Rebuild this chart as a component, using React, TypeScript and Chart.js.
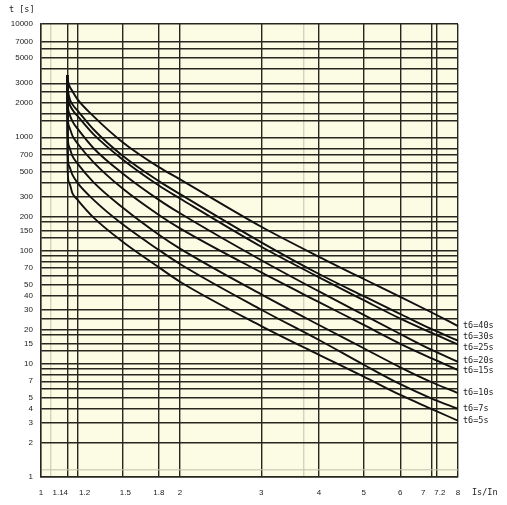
import React, { useEffect, useRef } from 'react';
import { Chart, registerables } from 'chart.js';

Chart.register(...registerables);

// ---- data ----
const xPoints = [1.14, 1.142, 1.15, 1.17, 1.2, 1.3, 1.5, 1.8, 2, 3, 4, 5, 6, 7, 8];
const seriesNames = ['t6=40s', 't6=30s', 't6=25s', 't6=20s', 't6=15s', 't6=10s', 't6=7s', 't6=5s'];
const t40 = [3550, 3300, 2900, 2550, 2160, 1530, 910, 545, 425, 162, 88, 56, 39, 28.5, 21.5];
const t30 = [3550, 2900, 2300, 1950, 1720, 1170, 690, 410, 315, 118, 62, 39.5, 27.5, 20.3, 16];
const t25 = [3550, 2600, 2050, 1750, 1540, 1060, 640, 375, 288, 108, 58, 36.4, 25, 18.8, 14.8];
const t20 = [3550, 2100, 1650, 1380, 1190, 800, 481, 280, 213, 82, 43.5, 27, 18.3, 13.3, 10.4];
const t15 = [3550, 1600, 1250, 1030, 880, 600, 354, 206, 157, 64, 35, 22, 15, 11.2, 8.8];
const t10 = [3550, 1100, 830, 680, 585, 400, 241, 138, 104, 41, 22, 13.7, 9.3, 6.9, 5.5];
const t7 = [3550, 740, 560, 465, 395, 280, 171, 101, 76, 30, 16.2, 9.8, 6.6, 4.95, 4.0];
const t5 = [3550, 520, 400, 320, 280, 195, 120, 71, 53, 21.5, 12, 7.7, 5.3, 4.0, 3.14];
const seriesValues = [t40, t30, t25, t20, t15, t10, t7, t5];

const xGrid = [1, 1.05, 1.14, 1.2, 1.5, 1.8, 2, 3, 3.7, 4, 5, 6, 7, 7.2, 8];
const xFaint = [1.05, 3.7];
const xTickLabels = [1, 1.14, 1.2, 1.5, 1.8, 2, 3, 4, 5, 6, 7, 7.2, 8];
const yGrid = [
  1, 1.15, 2, 3, 4, 5, 6, 7, 8, 9,
  10, 13, 15, 18, 20, 25, 30, 40, 50, 60, 70, 80, 90,
  100, 130, 150, 180, 200, 300, 400, 500, 600, 700, 800,
  1000, 1400, 1600, 2000, 2500, 3000, 4000, 5000, 6000, 7000, 10000,
];
const yFaint = [1.15];
const yTickLabels = [1, 2, 3, 4, 5, 7, 10, 15, 20, 30, 40, 50, 70, 100, 150, 200, 300, 500, 700, 1000, 2000, 3000, 5000, 7000, 10000];

const xTitle = 'Is/In';
const yTitle = 't [s]';

// ---- styles ----
const GRID = '#27271f';
const FAINT = 'rgba(195,195,170,0.7)';
const BG = '#fcfce4';
const LABEL_FONT = '8px "Liberation Sans", Arial, sans-serif';
const MONO_FONT = '8.5px "DejaVu Sans Mono", monospace';
const xLabelNudge: Record<string, number> = { '1.14': -7, '1.2': 7, '1.5': 3, '7': -8, '7.2': 3 };

const decorPlugin = {
  id: 'decor',
  beforeDraw(chart: any) {
    const { ctx, chartArea } = chart;
    ctx.save();
    ctx.fillStyle = BG;
    ctx.fillRect(chartArea.left, chartArea.top, chartArea.right - chartArea.left, chartArea.bottom - chartArea.top);
    ctx.restore();
  },
  afterDraw(chart: any) {
    const { ctx, chartArea } = chart;
    const xs = chart.scales.x;
    const ys = chart.scales.y;
    ctx.save();
    ctx.fillStyle = '#222';
    ctx.font = MONO_FONT;
    ctx.textAlign = 'left';
    ctx.textBaseline = 'middle';
    ctx.fillText(yTitle, 9, 10);
    ctx.font = LABEL_FONT;
    ctx.textAlign = 'center';
    const ly = chartArea.bottom + 16;
    xTickLabels.forEach((v) => {
      const px = xs.getPixelForValue(v) + (xLabelNudge[String(v)] || 0);
      ctx.fillText(String(v), px, ly);
    });
    ctx.font = MONO_FONT;
    ctx.textAlign = 'left';
    ctx.fillText(xTitle, chartArea.right + 14, ly);
    const pos = seriesValues.map((arr) => ys.getPixelForValue(arr[arr.length - 1]));
    const gap = 10.6;
    for (let it = 0; it < 60; it++) {
      for (let i = 1; i < pos.length; i++) {
        const d = pos[i] - pos[i - 1];
        if (d < gap) {
          const m = (gap - d) / 2;
          pos[i - 1] -= m;
          pos[i] += m;
        }
      }
    }
    seriesNames.forEach((name, i) => {
      ctx.fillText(name, chartArea.right + 5, pos[i]);
    });
    ctx.restore();
  },
};

export default function App() {
  const ref = useRef<HTMLCanvasElement | null>(null);
  useEffect(() => {
    if (!ref.current) return;
    const chart = new Chart(ref.current, {
      type: 'line',
      data: {
        datasets: seriesNames.map((name, i) => ({
          label: name,
          data: xPoints.map((x, j) => ({ x, y: seriesValues[i][j] })),
          borderColor: '#111',
          borderWidth: 1.9,
          pointRadius: 0,
          fill: false,
          cubicInterpolationMode: 'monotone' as const,
        })),
      },
      options: {
        animation: false,
        responsive: false,
        maintainAspectRatio: false,
        devicePixelRatio: 1,
        layout: { padding: { left: 0, top: 24, right: 49, bottom: 0 } },
        plugins: { legend: { display: false }, tooltip: { enabled: false } },
        scales: {
          x: {
            type: 'logarithmic',
            min: 1,
            max: 8,
            afterBuildTicks: (s: any) => {
              s.ticks = xGrid.map((v) => ({ value: v }));
            },
            afterFit: (s: any) => {
              s.height = 28;
            },
            ticks: { display: false, autoSkip: false },
            grid: {
              drawTicks: false,
              color: (c: any) => (xFaint.includes(c.tick?.value) ? FAINT : GRID),
              lineWidth: 1.4,
            },
            border: { color: GRID, width: 1.4 },
          },
          y: {
            type: 'logarithmic',
            min: 1,
            max: 10000,
            afterBuildTicks: (s: any) => {
              s.ticks = yGrid.map((v) => ({ value: v }));
            },
            afterFit: (s: any) => {
              s.width = 41;
            },
            ticks: {
              autoSkip: false,
              padding: 8,
              color: '#222',
              font: { family: '"Liberation Sans", Arial, sans-serif', size: 8 },
              callback: (v: any) => (yTickLabels.includes(Number(v)) ? String(v) : ''),
            },
            grid: {
              drawTicks: false,
              color: (c: any) => (yFaint.includes(c.tick?.value) ? FAINT : GRID),
              lineWidth: 1.4,
            },
            border: { color: GRID, width: 1.4 },
          },
        },
      } as any,
      plugins: [decorPlugin],
    });
    return () => chart.destroy();
  }, []);
  return (
    <div style={{ position: 'fixed', left: 0, top: 0, width: 507, height: 505, background: '#fff' }}>
      <canvas ref={ref} width={507} height={505} style={{ width: 507, height: 505, display: 'block' }} />
    </div>
  );
}
